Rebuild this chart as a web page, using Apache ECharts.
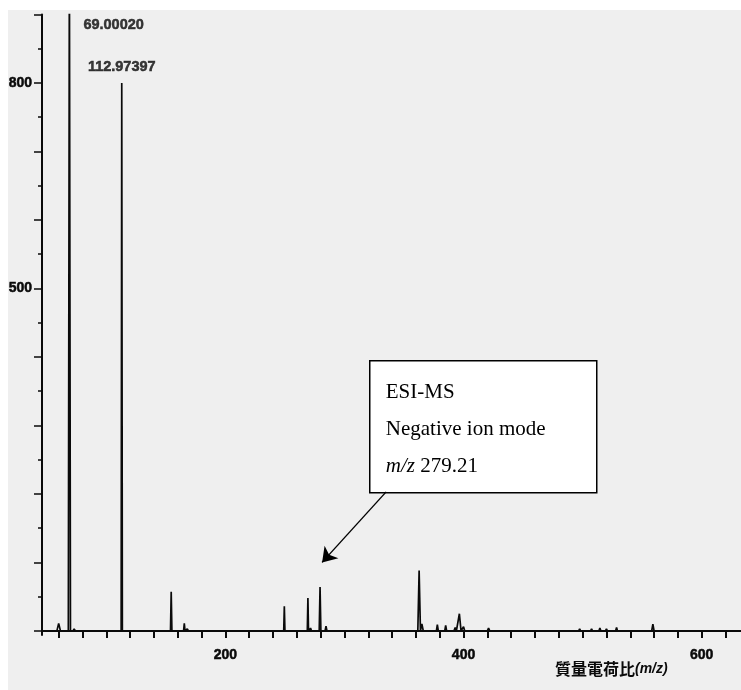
<!DOCTYPE html>
<html>
<head>
<meta charset="utf-8">
<script src="https://cdn.jsdelivr.net/npm/echarts@6/dist/echarts.min.js"></script>
<style>
  html, body { margin: 0; padding: 0; background: #ffffff; }
  #paper { position: absolute; left: 8px; top: 10px; width: 733px; height: 680px; background: #efefef; }
  #chart { position: absolute; left: 0; top: 0; width: 741px; height: 690px; }
</style>
</head>
<body>
<div id="paper"></div>
<div id="chart"></div>
<script>
// Negative-ion ESI mass spectrum: stick peaks (m/z, intensity, half width in m/z)
const peakMz = [60, 69.0002, 73, 90, 100, 112.97397, 154.5, 165.5, 168, 172, 185, 195, 212, 226, 238,
  249.5, 269.3, 271.5, 279.5, 284.5, 300, 310, 318, 328, 340, 362.7, 365, 378, 385, 393, 396.5, 400,
  421, 440, 460, 480, 497.5, 507.5, 514.5, 520, 528.5, 559, 575, 600, 620];
const peakIntensity = [11, 1000, 3, 1, 1.5, 800, 57, 11, 3, 2, 1.5, 1.5, 1.5, 1.5, 2,
  36, 48, 4, 64, 7, 2, 2, 2, 1.5, 1.5, 88, 10, 9, 8, 5, 25, 6,
  4, 1.5, 1.5, 1.5, 3, 3, 4, 3, 5, 10, 2, 1.5, 1.5];
const peakHalfWidth = [1.5, 0.9, 1, 1, 1, 0.5, 0.6, 0.6, 1, 1, 1, 1, 1, 1, 1,
  0.5, 0.5, 0.8, 0.7, 0.8, 1, 1, 1, 1, 1, 1.1, 1.2, 0.8, 0.8, 1, 1.4, 1,
  1, 1, 1, 1, 0.8, 0.8, 0.8, 0.8, 0.8, 1, 1, 1, 1];

// Annotated peaks (m/z values printed above their sticks)
const labelledMz = [69.0002, 112.97397];

// Axis ranges and tick values
const mzMin = 46, mzMax = 633;
const intensityMin = -6, intensityMax = 900;
const xTickValues = [60, 80, 100, 120, 140, 160, 180, 200, 220, 240, 260, 280, 300, 320, 340, 360, 380,
  400, 420, 440, 460, 480, 500, 520, 540, 560, 580, 600, 620];
const xLabelValues = [200, 400, 600];
const yMajorTickValues = [0, 100, 200, 300, 400, 500, 600, 700, 800, 900];
const yMinorTickValues = [50, 150, 250, 350, 450, 550, 650, 750, 850];
const yLabelValues = [500, 800];

// Boxed note with arrow to the m/z 279.21 ion
const noteLines = ['ESI-MS', 'Negative ion mode', '{i|m/z} 279.21'];
const arrowTargetMz = 279.21;

const ink = '#0a0a0a';

// Build the continuous stick trace along the baseline
const trace = [[mzMin, 0]];
peakMz.map((m, i) => ({ m, h: peakIntensity[i], w: peakHalfWidth[i] }))
  .sort((a, b) => a.m - b.m)
  .forEach(p => {
    trace.push([p.m - p.w, 0], [p.m, p.h], [p.m + p.w, 0]);
  });
trace.push([mzMax, 0]);

const chart = echarts.init(document.getElementById('chart'), null, { renderer: 'canvas' });

const labelFont = {
  fontFamily: 'Liberation Sans', fontWeight: 'bold', color: ink,
  textBorderColor: ink, textBorderWidth: 0.5
};

const option = {
  animation: false,
  grid: { left: 42, right: 0, top: 14.5, bottom: 55, containLabel: false },
  xAxis: {
    type: 'value', min: mzMin, max: mzMax,
    axisLine: { show: true, lineStyle: { color: ink, width: 2 } },
    axisTick: { show: true, customValues: xTickValues, length: 7, lineStyle: { color: ink, width: 2 } },
    axisLabel: { show: true, customValues: xLabelValues, margin: 13, fontSize: 14, ...labelFont },
    splitLine: { show: false }
  },
  yAxis: [
    {
      type: 'value', min: intensityMin, max: intensityMax,
      axisLine: { show: true, lineStyle: { color: ink, width: 2 } },
      axisTick: { show: true, customValues: yMajorTickValues, length: 8, lineStyle: { color: ink, width: 1.5 } },
      axisLabel: { show: true, customValues: yLabelValues, margin: 10, fontSize: 14, ...labelFont },
      splitLine: { show: false }
    },
    {
      type: 'value', min: intensityMin, max: intensityMax, position: 'left',
      axisLine: { show: false },
      axisTick: { show: true, customValues: yMinorTickValues, length: 4, lineStyle: { color: ink, width: 1.5 } },
      axisLabel: { show: false },
      splitLine: { show: false }
    }
  ],
  series: [
    {
      name: 'spectrum', type: 'line', data: trace, showSymbol: false, symbol: 'none',
      clip: true, lineStyle: { color: ink, width: 1.7 }, z: 3,
      markLine: {
        silent: true, symbol: ['none', 'arrow'], symbolSize: 14,
        lineStyle: { color: '#000', width: 1.4, type: 'solid' },
        label: { show: false },
        data: [[{ coord: [335, 203] }, { coord: [arrowTargetMz + 2, 100] }]]
      }
    },
    {
      name: 'peak labels', type: 'scatter', symbolSize: 0, z: 4,
      data: labelledMz.map(m => {
        const i = peakMz.indexOf(m);
        const top = Math.min(peakIntensity[i], intensityMax);
        const clipped = peakIntensity[i] > intensityMax;
        return {
          value: [m, top],
          label: {
            show: true,
            formatter: m.toFixed(5),
            position: clipped ? 'right' : 'top',
            distance: clipped ? 14 : 8,
            offset: clipped ? [0, 10] : [0, 0],
            fontSize: 14.5, ...labelFont
          }
        };
      })
    }
  ],
  graphic: [
    {
      type: 'group', left: 369, top: 360,
      children: [
        { type: 'rect', shape: { x: 0, y: 0, width: 227, height: 132 }, style: { fill: '#ffffff', stroke: '#000', lineWidth: 1.5 } },
        {
          type: 'text', left: 16, top: 13,
          style: {
            text: noteLines.join('\n'), fontFamily: 'Liberation Serif', fontSize: 21, lineHeight: 37, fill: '#000',
            rich: { i: { fontFamily: 'Liberation Serif', fontStyle: 'italic', fontSize: 21, lineHeight: 37 } }
          }
        }
      ]
    },
    {
      type: 'text', left: 555, top: 661,
      style: {
        text: '質量電荷比{i|(m/z)}', fontFamily: 'Noto Sans CJK JP', fontWeight: 'bold', fontSize: 16, fill: ink,
        rich: { i: { fontFamily: 'Liberation Sans', fontStyle: 'italic', fontWeight: 'bold', fontSize: 14 } }
      }
    }
  ]
};

chart.setOption(option);
</script>
</body>
</html>
